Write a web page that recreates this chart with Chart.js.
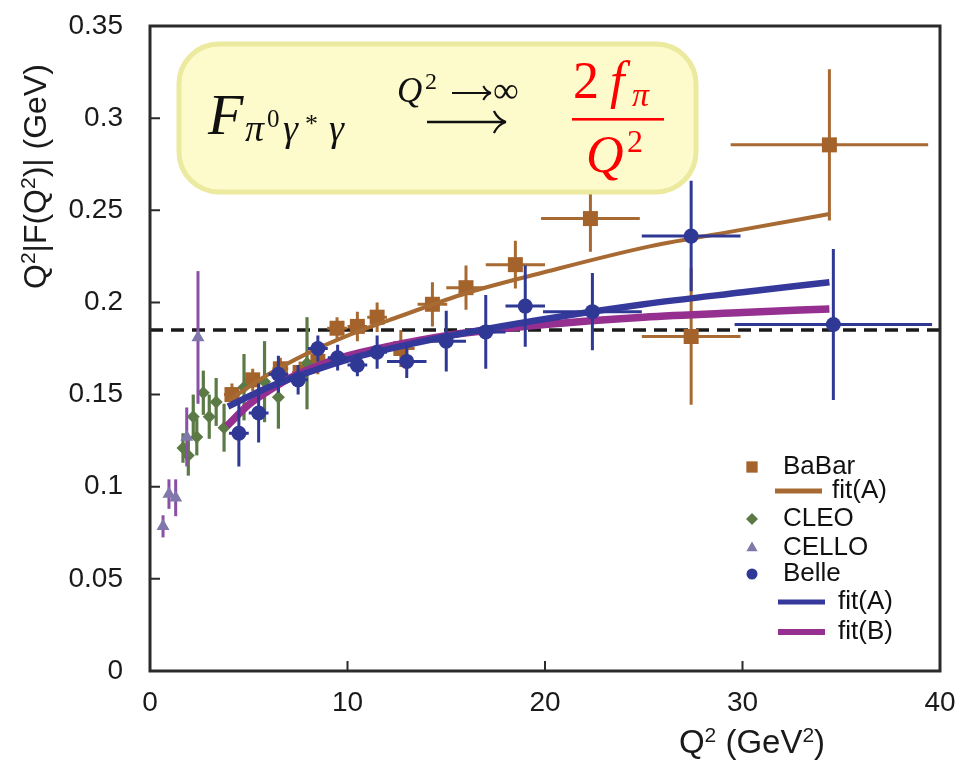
<!DOCTYPE html>
<html>
<head>
<meta charset="utf-8">
<title>Pion transition form factor</title>
<script src="https://cdn.jsdelivr.net/npm/chart.js@4.4.0/dist/chart.umd.min.js"></script>
<style>
  html, body { margin: 0; padding: 0; background: #ffffff; }
  #wrap { position: relative; width: 960px; height: 760px; }
</style>
</head>
<body>
<div id="wrap"><canvas id="c" width="960" height="760"></canvas></div>
<script>
// ---- BaBar measurements ----
const babarQ2    = [4.15, 5.2, 6.6, 7.6, 8.5, 9.47, 10.5, 11.5, 12.7, 14.3, 16.0, 18.5, 22.3, 27.4, 34.4];
const babarF     = [0.150, 0.158, 0.164, 0.162, 0.168, 0.186, 0.187, 0.192, 0.175, 0.199, 0.208, 0.2205, 0.2455, 0.1815, 0.2855];
const babarQ2Err = [0.4, 0.4, 0.4, 0.4, 0.4, 0.5, 0.5, 0.5, 0.7, 0.75, 1.0, 1.5, 2.5, 2.5, 5.0];
const babarFErr  = [0.006, 0.006, 0.006, 0.006, 0.007, 0.006, 0.008, 0.008, 0.010, 0.012, 0.012, 0.013, 0.018, 0.037, 0.041];

// ---- Belle measurements ----
const belleQ2    = [4.5, 5.5, 6.5, 7.5, 8.5, 9.5, 10.5, 11.5, 13.0, 15.0, 17.0, 19.0, 22.4, 27.4, 34.6];
const belleF     = [0.129, 0.140, 0.161, 0.158, 0.175, 0.170, 0.166, 0.173, 0.168, 0.179, 0.184, 0.198, 0.195, 0.236, 0.188];
const belleQ2Err = [0.5, 0.5, 0.5, 0.5, 0.5, 0.5, 0.5, 0.5, 1.0, 1.0, 1.0, 1.0, 2.5, 2.5, 5.0];
const belleFErr  = [0.018, 0.016, 0.010, 0.008, 0.007, 0.007, 0.006, 0.009, 0.009, 0.0165, 0.020, 0.022, 0.021, 0.030, 0.041];

// ---- CLEO measurements ----
const cleoQ2   = [1.67, 1.94, 2.19, 2.37, 2.7, 3.0, 3.35, 3.75, 4.76, 5.8, 6.5, 7.95];
const cleoF    = [0.121, 0.117, 0.138, 0.127, 0.151, 0.138, 0.146, 0.132, 0.154, 0.157, 0.1485, 0.167];
const cleoFErr = [0.008, 0.011, 0.012, 0.010, 0.012, 0.012, 0.013, 0.013, 0.018, 0.022, 0.017, 0.025];

// ---- CELLO measurements ----
const celloQ2   = [0.66, 0.96, 1.3, 1.86, 2.43];
const celloF    = [0.0785, 0.096, 0.094, 0.127, 0.181];
const celloFErr = [0.006, 0.008, 0.010, 0.016, 0.036];

// ---- fit curves ----
const babarFitQ2 = [4, 6, 8, 10, 12.66, 16, 20, 25.3, 30, 34.4];
const babarFitF  = [0.147, 0.161, 0.1725, 0.182, 0.1925, 0.205, 0.2165, 0.2304, 0.2395, 0.248];
const belleFitAQ2 = [3.95, 6, 8, 10, 12, 15, 20, 25, 30, 34.4];
const belleFitAF  = [0.1435, 0.154, 0.162, 0.169, 0.1745, 0.1815, 0.191, 0.199, 0.2055, 0.211];
const belleFitBQ2 = [3.9, 5, 6, 7, 8, 10, 12, 15, 20, 25, 30, 34.4];
const belleFitBF  = [0.133, 0.1445, 0.152, 0.1585, 0.1635, 0.171, 0.176, 0.182, 0.188, 0.192, 0.1945, 0.1965];

// asymptotic limit 2 f_pi
const limitQ2 = [0, 40];
const limitF  = [0.185, 0.185];

// ---- axes ----
const xTickValues = [0, 10, 20, 30, 40];
const xTickLabels = ['0', '10', '20', '30', '40'];
const yTickValues = [0, 0.05, 0.1, 0.15, 0.2, 0.25, 0.3, 0.35];
const yTickLabels = ['0', '0.05', '0.1', '0.15', '0.2', '0.25', '0.3', '0.35'];

// axis titles as runs of normal and superscript text
const xTitleRuns = [['Q', false], ['2', true], [' (GeV', false], ['2', true], [')', false]];
const yTitleRuns = [['Q', false], ['2', true], ['|F(Q', false], ['2', true], [')| (GeV)', false]];

const SANS = '"Liberation Sans", Arial, Helvetica, sans-serif';
const SERIF = '"Liberation Serif", "DejaVu Serif", "Times New Roman", serif';

const C_BABAR = '#A5632C';
const C_BABAR_FIT = '#A86A33';
const C_BELLE = '#2F3895';
const C_BELLE_FIT = '#34399B';
const C_FITB = '#952F90';
const C_CLEO = '#5C7A45';
const C_CELLO = '#8077AA';
const C_CELLO_BAR = '#8A4FA6';

const pts = (xs, ys) => xs.map((v, i) => ({ x: v, y: ys[i] }));

const datasets = [
  { label: 'Belle', data: pts(belleQ2, belleF), order: 0,
    pointStyle: 'circle', pointRadius: 7.5, backgroundColor: C_BELLE, borderWidth: 0, showLine: false,
    errors: { x: belleQ2Err, y: belleFErr, color: C_BELLE, width: 3 } },
  { label: 'Belle fit(A)', data: pts(belleFitAQ2, belleFitAF), order: 1, showLine: true,
    borderColor: C_BELLE_FIT, borderWidth: 6.5, pointRadius: 0, cubicInterpolationMode: 'monotone', borderCapStyle: 'butt' },
  { label: 'Belle fit(B)', data: pts(belleFitBQ2, belleFitBF), order: 2, showLine: true,
    borderColor: C_FITB, borderWidth: 7.5, pointRadius: 0, cubicInterpolationMode: 'monotone', borderCapStyle: 'butt' },
  { label: 'BaBar fit(A)', data: pts(babarFitQ2, babarFitF), order: 3, showLine: true,
    borderColor: C_BABAR_FIT, borderWidth: 4, pointRadius: 0, cubicInterpolationMode: 'monotone', borderCapStyle: 'butt' },
  { label: 'CELLO', data: pts(celloQ2, celloF), order: 4,
    pointStyle: 'triangle', pointRadius: 7.5, backgroundColor: C_CELLO, borderWidth: 0, showLine: false,
    errors: { x: null, y: celloFErr, color: C_CELLO_BAR, width: 3 } },
  { label: 'CLEO', data: pts(cleoQ2, cleoF), order: 5,
    pointStyle: 'rectRot', pointRadius: 6.5, backgroundColor: C_CLEO, borderWidth: 0, showLine: false,
    errors: { x: null, y: cleoFErr, color: C_CLEO, width: 3.2 } },
  { label: 'BaBar', data: pts(babarQ2, babarF), order: 6,
    pointStyle: 'rect', pointRadius: 10.6, backgroundColor: C_BABAR, borderWidth: 0, showLine: false,
    errors: { x: babarQ2Err, y: babarFErr, color: C_BABAR_FIT, width: 3 } },
  { label: '2 f_pi', data: pts(limitQ2, limitF), order: 7, showLine: true,
    borderColor: '#1a1a1a', borderWidth: 3.5, borderDash: [13, 8], pointRadius: 0, borderCapStyle: 'butt' }
];

// error bars drawn just beneath each dataset's own markers
const errorBarPlugin = {
  id: 'errorBars',
  beforeDatasetDraw(chart, args) {
    const ds = chart.data.datasets[args.index];
    if (!ds.errors) return;
    const { ctx } = chart;
    const xs = chart.scales.x, ys = chart.scales.y;
    ctx.save();
    ctx.strokeStyle = ds.errors.color;
    ctx.lineWidth = ds.errors.width;
    ctx.lineCap = 'butt';
    ds.data.forEach((p, i) => {
      const px = xs.getPixelForValue(p.x), py = ys.getPixelForValue(p.y);
      ctx.beginPath();
      const ey = ds.errors.y ? ds.errors.y[i] : 0;
      const ex = ds.errors.x ? ds.errors.x[i] : 0;
      if (ey) { ctx.moveTo(px, ys.getPixelForValue(p.y - ey)); ctx.lineTo(px, ys.getPixelForValue(p.y + ey)); }
      if (ex) { ctx.moveTo(xs.getPixelForValue(p.x - ex), py); ctx.lineTo(xs.getPixelForValue(p.x + ex), py); }
      ctx.stroke();
    });
    ctx.restore();
  }
};

function roundRectPath(ctx, x, y, w, h, r) {
  ctx.beginPath();
  ctx.moveTo(x + r, y);
  ctx.lineTo(x + w - r, y);
  ctx.arcTo(x + w, y, x + w, y + r, r);
  ctx.lineTo(x + w, y + h - r);
  ctx.arcTo(x + w, y + h, x + w - r, y + h, r);
  ctx.lineTo(x + r, y + h);
  ctx.arcTo(x, y + h, x, y + h - r, r);
  ctx.lineTo(x, y + r);
  ctx.arcTo(x, y, x + r, y, r);
  ctx.closePath();
}

// arrow with LaTeX-like curved barbs
function drawArrow(ctx, x0, x1, y, barb, lw) {
  ctx.lineWidth = lw;
  ctx.beginPath();
  ctx.moveTo(x0, y); ctx.lineTo(x1 - 2, y);
  ctx.stroke();
  ctx.beginPath();
  ctx.moveTo(x1 - barb * 1.1, y - barb); ctx.quadraticCurveTo(x1 - barb * 0.7, y - barb * 0.2, x1, y);
  ctx.moveTo(x1 - barb * 1.1, y + barb); ctx.quadraticCurveTo(x1 - barb * 0.7, y + barb * 0.2, x1, y);
  ctx.stroke();
}

function drawFormula(ctx) {
  ctx.save();
  roundRectPath(ctx, 179, 44, 517, 148, 40);
  ctx.fillStyle = '#FDFBCB';
  ctx.fill();
  ctx.lineWidth = 5;
  ctx.strokeStyle = '#ECEA9F';
  ctx.stroke();

  const it = s => `italic ${s}px ${SERIF}`;
  const up = s => `${s}px ${SERIF}`;
  ctx.textBaseline = 'alphabetic';
  ctx.textAlign = 'left';

  // F_{pi^0 gamma^* gamma}
  ctx.fillStyle = '#111111';
  ctx.font = it(58); ctx.fillText('F', 208, 134);
  ctx.font = it(38); ctx.fillText('π', 245, 141);
  ctx.font = up(25); ctx.fillText('0', 267, 127);
  ctx.font = it(38); ctx.fillText('γ', 283, 141);
  ctx.font = up(26); ctx.fillText('*', 305, 132);
  ctx.font = it(38); ctx.fillText('γ', 329, 141);

  // limit label over the arrow: Q^2 -> infinity
  ctx.font = it(35); ctx.fillText('Q', 397, 102);
  ctx.font = up(24); ctx.fillText('2', 425, 89);
  ctx.strokeStyle = '#111111';
  drawArrow(ctx, 452, 491, 93, 7, 2);
  ctx.font = up(36); ctx.fillText('∞', 493, 102);

  // long arrow
  drawArrow(ctx, 427, 506, 122, 11, 2.3);

  // 2 f_pi / Q^2 in red
  ctx.fillStyle = '#FF0000';
  ctx.font = up(52); ctx.fillText('2', 573, 98);
  ctx.font = it(52); ctx.fillText('f', 610, 98);
  ctx.font = it(34); ctx.fillText('π', 632, 106);
  ctx.fillRect(572, 118, 92, 2.6);
  ctx.font = it(52); ctx.fillText('Q', 586, 172);
  ctx.font = up(32); ctx.fillText('2', 627, 152);
  ctx.restore();
}

// draws runs of text with superscripts starting at (x, y) on the baseline
function runsWidth(ctx, runs, size, supSize) {
  let w = 0;
  runs.forEach(([t, sup]) => { ctx.font = `${sup ? supSize : size}px ${SANS}`; w += ctx.measureText(t).width; });
  return w;
}
function drawRuns(ctx, runs, x, y, size, supSize, raise) {
  runs.forEach(([t, sup]) => {
    ctx.font = `${sup ? supSize : size}px ${SANS}`;
    ctx.fillText(t, x, sup ? y - raise : y);
    x += ctx.measureText(t).width;
  });
}

const legendRows = [
  { type: 'point', style: 'rect', radius: 8, color: C_BABAR, mx: 752, y: 467, tx: 783, text: 'BaBar' },
  { type: 'line', color: C_BABAR_FIT, width: 5, x0: 775, x1: 822, y: 491, tx: 832, text: 'fit(A)' },
  { type: 'point', style: 'rectRot', radius: 6, color: C_CLEO, mx: 752, y: 519, tx: 783, text: 'CLEO' },
  { type: 'point', style: 'triangle', radius: 6.5, color: C_CELLO, mx: 752, y: 548, tx: 783, text: 'CELLO' },
  { type: 'point', style: 'circle', radius: 5.5, color: C_BELLE, mx: 752, y: 574, tx: 783, text: 'Belle' },
  { type: 'line', color: C_BELLE_FIT, width: 5, x0: 778, x1: 825, y: 602, tx: 838, text: 'fit(A)' },
  { type: 'line', color: C_FITB, width: 6, x0: 778, x1: 825, y: 632, tx: 838, text: 'fit(B)' }
];

const decorPlugin = {
  id: 'decor',
  afterDraw(chart) {
    const { ctx, chartArea: a } = chart;
    const xs = chart.scales.x, ys = chart.scales.y;
    ctx.save();

    // frame
    ctx.strokeStyle = '#2b2b2b';
    ctx.lineWidth = 3;
    ctx.strokeRect(a.left, a.top, a.right - a.left, a.bottom - a.top);

    // inward tick marks
    ctx.lineWidth = 2;
    ctx.beginPath();
    yTickValues.forEach(v => {
      const py = ys.getPixelForValue(v);
      ctx.moveTo(a.left, py); ctx.lineTo(a.left + 10, py);
    });
    xTickValues.forEach(v => {
      const px = xs.getPixelForValue(v);
      ctx.moveTo(px, a.bottom); ctx.lineTo(px, a.bottom - 10);
    });
    ctx.stroke();

    // axis titles
    ctx.fillStyle = '#1a1a1a';
    ctx.textAlign = 'left';
    ctx.textBaseline = 'alphabetic';
    const xw = runsWidth(ctx, xTitleRuns, 33, 21);
    drawRuns(ctx, xTitleRuns, 752 - xw / 2, 753, 33, 21, 11);
    ctx.save();
    ctx.translate(46, 289);
    ctx.rotate(-Math.PI / 2);
    drawRuns(ctx, yTitleRuns, 0, 0, 32, 21, 11);
    ctx.restore();

    drawFormula(ctx);

    // legend
    ctx.font = `26px ${SANS}`;
    ctx.textAlign = 'left';
    ctx.textBaseline = 'middle';
    legendRows.forEach(r => {
      if (r.type === 'point') {
        ctx.fillStyle = r.color;
        Chart.helpers.drawPoint(ctx, { pointStyle: r.style, radius: r.radius, rotation: 0, borderWidth: 0 }, r.mx, r.y);
      } else {
        ctx.strokeStyle = r.color;
        ctx.lineWidth = r.width;
        ctx.lineCap = 'butt';
        ctx.beginPath(); ctx.moveTo(r.x0, r.y); ctx.lineTo(r.x1, r.y); ctx.stroke();
      }
      ctx.fillStyle = '#111111';
      ctx.fillText(r.text, r.tx, r.y);
    });
    ctx.restore();
  }
};

// keep the plot frame at fixed margins: no extra label padding from the scales
const noScalePadding = s => { s.paddingTop = 0; s.paddingBottom = 0; s.paddingLeft = 0; s.paddingRight = 0; };

new Chart(document.getElementById('c'), {
  type: 'scatter',
  data: { datasets },
  options: {
    responsive: false,
    animation: false,
    devicePixelRatio: 1,
    layout: { padding: { top: 26, right: 20, left: 0, bottom: 0 } },
    plugins: { legend: { display: false }, tooltip: { enabled: false } },
    scales: {
      x: {
        type: 'linear', min: 0, max: 40,
        afterBuildTicks: s => { s.ticks = xTickValues.map(v => ({ value: v })); },
        afterFit: s => { s.height = 89; noScalePadding(s); },
        ticks: { callback: (v, i) => xTickLabels[i], font: { family: SANS, size: 28 }, color: '#1a1a1a', padding: 15, maxRotation: 0, autoSkip: false },
        grid: { display: false, drawTicks: false },
        border: { display: false }
      },
      y: {
        type: 'linear', min: 0, max: 0.35,
        afterBuildTicks: s => { s.ticks = yTickValues.map(v => ({ value: v })); },
        afterFit: s => { s.width = 150; noScalePadding(s); },
        ticks: { callback: (v, i) => yTickLabels[i], font: { family: SANS, size: 28 }, color: '#1a1a1a', padding: 27, autoSkip: false },
        grid: { display: false, drawTicks: false },
        border: { display: false }
      }
    }
  },
  plugins: [errorBarPlugin, decorPlugin]
});
</script>
</body>
</html>
